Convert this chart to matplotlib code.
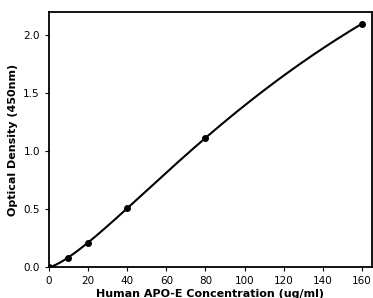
import matplotlib
matplotlib.use("Agg")
import matplotlib.pyplot as plt
import numpy as np

conc = [0, 10, 20, 40, 80, 160]
od = [0.0, 0.08, 0.21, 0.51, 1.11, 2.10]

# 4PL fit: grid over b, c; a and d solved by linear least squares
x = np.array(conc, dtype=float)
y = np.array(od, dtype=float)
best = None
for b in np.linspace(1.0, 3.0, 81):
    for c in np.linspace(50, 600, 221):
        f = 1.0 / (1.0 + (x / c) ** b)
        A = np.column_stack([f, 1 - f])
        sol, *_ = np.linalg.lstsq(A, y, rcond=None)
        err = np.sum((A @ sol - y) ** 2)
        if best is None or err < best[0]:
            best = (err, b, c, sol)
_, b, c, (a, d) = best

fig = plt.figure(figsize=(3.73, 2.98), dpi=100)
ax = fig.add_axes([0.131, 0.104, 0.866, 0.856])

xs = np.linspace(0, 160, 300)
f = 1.0 / (1.0 + (xs / c) ** b)
ax.plot(xs, a * f + d * (1 - f), color="black", lw=1.5)
ax.plot(conc, od, "o", color="black", ms=4)

ax.set_xlim(0, 165)
ax.set_ylim(0, 2.2)
ax.set_xticks(np.arange(0, 161, 20))
ax.set_yticks([0.0, 0.5, 1.0, 1.5, 2.0])
ax.tick_params(labelsize=7.5, length=3)
ax.set_xlabel("Human APO-E Concentration (ug/ml)", fontsize=8, fontweight="bold", labelpad=2)
ax.set_ylabel("Optical Density (450nm)", fontsize=8, fontweight="bold", labelpad=4)
for s in ax.spines.values():
    s.set_linewidth(1.3)

fig.savefig("out.png", dpi=100)
